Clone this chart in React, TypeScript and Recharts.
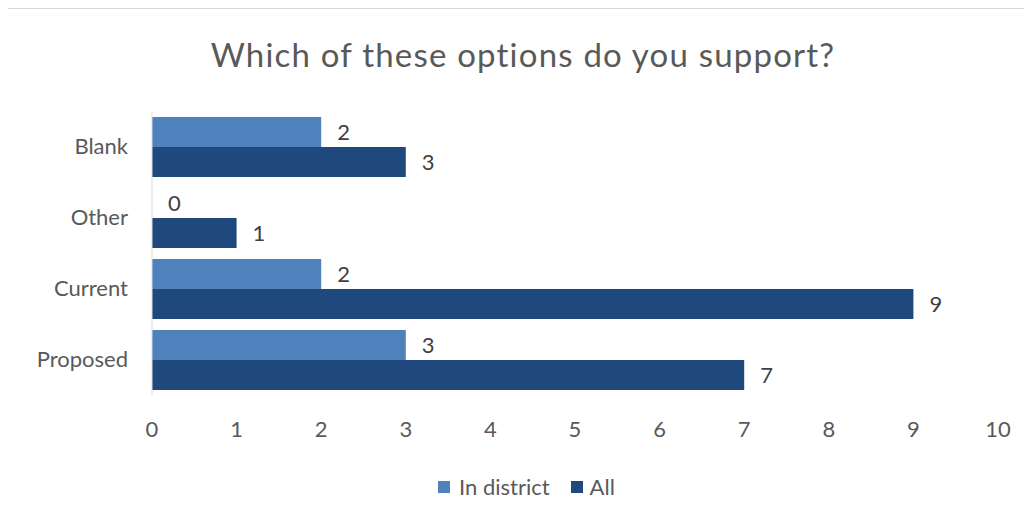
import React from 'react';
import { BarChart, Bar, XAxis, YAxis, LabelList } from 'recharts';

const categories = ['Blank', 'Other', 'Current', 'Proposed'];
const inDistrict = [2, 0, 2, 3];
const all = [3, 1, 9, 7];
const xTicks = [0, 1, 2, 3, 4, 5, 6, 7, 8, 9, 10];

const LIGHT = '#4f81bd';
const DARK = '#1f497d';
const TEXT = '#595959';
const FONT = 'Lato, "Open Sans", sans-serif';

const data = categories.map((name, i) => ({ name, inDistrict: inDistrict[i], all: all[i] }));

// keep zero-valued bars in the layout so their "0" label still shows
const keepZero = (v: number) => (v === 0 ? 0.01 : 0);

const App: React.FC = () => {
  return (
    <div
      style={{
        position: 'relative',
        width: 1024,
        height: 515,
        borderTop: '1px solid #d9d9d9',
        borderLeft: '1px solid #d9d9d9',
        boxSizing: 'border-box',
        marginLeft: -1,
        background: '#fff',
        fontFamily: FONT,
      }}
    >
      <div
        style={{
          position: 'absolute',
          top: 25,
          left: 0,
          width: 1030,
          textAlign: 'center',
          fontSize: 33,
          letterSpacing: 1.2,
          color: TEXT,
        }}
      >
        Which of these options do you support?
      </div>
      <BarChart
        width={1024}
        height={510}
        data={data}
        layout="vertical"
        margin={{ top: 102, right: 34, bottom: 60, left: 0 }}
        barGap={0}
        barSize={30}
        style={{ position: 'absolute', top: 0, left: 0 }}
      >
        <XAxis
          type="number"
          domain={[0, 10]}
          ticks={xTicks}
          interval={0}
          axisLine={false}
          tickLine={false}
          tickSize={0}
          tickMargin={26}
          height={64}
          tick={{ fill: TEXT, fontSize: 22, fontFamily: FONT }}
        />
        <YAxis
          type="category"
          dataKey="name"
          width={144}
          axisLine={{ stroke: '#d9d9d9' }}
          tickLine={false}
          tickSize={0}
          tickMargin={24}
          tick={{ fill: TEXT, fontSize: 22, fontFamily: FONT }}
        />
        <Bar dataKey="inDistrict" fill={LIGHT} minPointSize={keepZero} isAnimationActive={false}>
          <LabelList dataKey="inDistrict" position="right" offset={16} fill="#404040" fontSize={22} fontFamily={FONT} />
        </Bar>
        <Bar dataKey="all" fill={DARK} minPointSize={keepZero} isAnimationActive={false}>
          <LabelList dataKey="all" position="right" offset={16} fill="#404040" fontSize={22} fontFamily={FONT} />
        </Bar>
      </BarChart>
      <div
        style={{
          position: 'absolute',
          top: 464,
          left: 430,
          display: 'flex',
          alignItems: 'center',
          fontSize: 22,
          color: TEXT,
          whiteSpace: 'nowrap',
        }}
      >
        <span style={{ display: 'inline-block', width: 12, height: 12, background: LIGHT, marginRight: 9 }} />
        <span style={{ marginRight: 21 }}>In district</span>
        <span style={{ display: 'inline-block', width: 12, height: 12, background: DARK, marginRight: 7 }} />
        <span>All</span>
      </div>
    </div>
  );
};

export default App;
